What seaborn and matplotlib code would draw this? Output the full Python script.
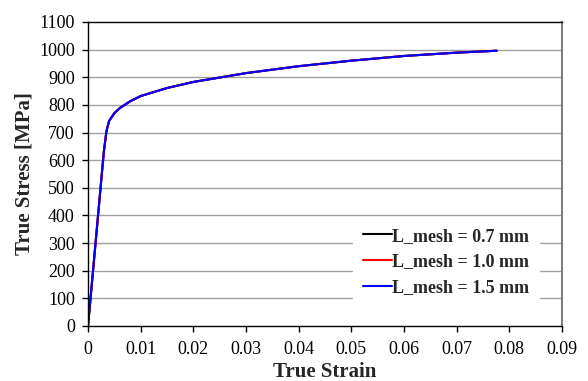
import numpy as np
import pandas as pd
import matplotlib
matplotlib.use("Agg")
import matplotlib.pyplot as plt
import seaborn as sns

strain = [0.0, 0.001, 0.002, 0.003, 0.0035, 0.004, 0.005, 0.006, 0.008, 0.010,
          0.015, 0.020, 0.030, 0.040, 0.050, 0.060, 0.070, 0.0776]
stress_07 = [0, 210, 420, 630, 705, 742, 770, 788, 813, 832,
             861, 883, 915, 940, 960, 977, 989, 996]
stress_10 = [0, 210, 420, 630, 705, 742, 770, 788, 813, 832,
             861, 883, 915, 940, 960, 977, 989, 996]
stress_15 = [0, 210, 420, 630, 705, 742, 770, 788, 813, 832,
             861, 883, 915, 940, 960, 977, 989, 996]
labels = ["L_mesh = 0.7 mm", "L_mesh = 1.0 mm", "L_mesh = 1.5 mm"]
colors = ["black", "red", "blue"]

frames = []
for lab, s in zip(labels, [stress_07, stress_10, stress_15]):
    frames.append(pd.DataFrame({"strain": strain, "stress": s, "mesh": lab}))
df = pd.concat(frames, ignore_index=True)

sns.set_style("white")
plt.rcParams["font.family"] = ["Liberation Serif", "DejaVu Serif"]

fig = plt.figure(figsize=(5.88, 3.81), dpi=100)
ax = fig.add_axes([0.1497, 0.1444, 0.8061, 0.7979])

for y in range(100, 1100, 100):
    ax.axhline(y, color="#a0a0a0", lw=1.0, zorder=0)

sns.lineplot(data=df, x="strain", y="stress", hue="mesh", palette=colors,
             hue_order=labels, lw=1.5, ax=ax, legend=True)

ax.set_xlim(0, 0.09)
ax.set_ylim(0, 1100)
ax.set_xticks(np.arange(0, 0.091, 0.01))
ax.set_xticklabels(["0"] + [f"{v:.2f}" for v in np.arange(0.01, 0.091, 0.01)])
ax.set_yticks(range(0, 1101, 100))
ax.tick_params(axis="both", direction="out", length=4.5, width=1, labelsize=13,
               bottom=True, left=True, colors="black")
ax.tick_params(axis="y", pad=5)
ax.tick_params(axis="x", pad=6.5)
ax.set_xlabel("True Strain", fontsize=15, fontweight="bold", labelpad=3)
ax.set_ylabel("True Stress [MPa]", fontsize=15, fontweight="bold", labelpad=3)

for sp in ["left", "bottom", "top"]:
    ax.spines[sp].set_color("black")
    ax.spines[sp].set_linewidth(1.0)
ax.spines["right"].set_color("#808080")
ax.spines["right"].set_linewidth(1.5)

leg = ax.legend(loc="lower right", bbox_to_anchor=(0.9515, 0.065), frameon=True,
                fontsize=13, handlelength=1.6, handletextpad=0.0,
                borderaxespad=0.0, labelspacing=0.49, borderpad=0.55)
leg.get_frame().set_edgecolor("white")
leg.get_frame().set_facecolor("white")
leg.get_frame().set_alpha(1.0)
leg.get_frame().set_boxstyle("square", pad=0)
for t in leg.get_texts():
    t.set_fontweight("bold")
for h in leg.get_lines():
    h.set_linewidth(1.5)

fig.savefig("out.png", dpi=100, facecolor="white")
